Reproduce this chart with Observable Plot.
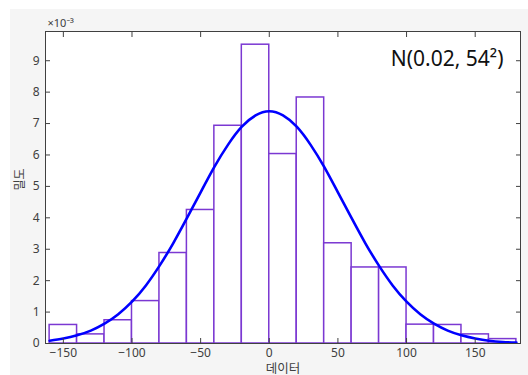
<!DOCTYPE html>
<html>
<head>
<meta charset="utf-8">
<script src="https://cdn.jsdelivr.net/npm/d3@7"></script>
<script src="https://cdn.jsdelivr.net/npm/@observablehq/plot@0.6"></script>
<style>
  html, body { margin: 0; padding: 0; background: #ffffff; }
  #wrap { position: relative; width: 528px; height: 375px; overflow: hidden; }
  #bg { position: absolute; left: 10px; top: 9px; right: 0; bottom: 0; background: #f5f5f5; }
  #chart { position: absolute; left: 0; top: 0; }
  svg { font-family: "Noto Sans", "Noto Sans CJK KR", sans-serif; }
</style>
</head>
<body>
<div id="wrap"><div id="bg"></div><div id="chart"></div></div>
<script>
// Histogram bins (width 20) and densities (×10^-3)
const binStart = [-160, -140, -120, -100, -80, -60, -40, -20, 0, 20, 40, 60, 80, 100, 120, 140, 160];
const binEnd   = [-140, -120, -100, -80, -60, -40, -20, 0, 20, 40, 60, 80, 100, 120, 140, 160, 180];
const density  = [0.59, 0.29, 0.74, 1.35, 2.88, 4.25, 6.93, 9.51, 6.03, 7.83, 3.19, 2.42, 2.42, 0.60, 0.59, 0.29, 0.14];

// Fitted normal curve N(0.02, 54^2) (×10^-3)
const curveX = [-160, -150, -140, -130, -120, -110, -100, -90, -80, -70, -60, -50, -40, -30, -20, -10, 0, 10, 20, 30, 40, 50, 60, 70, 80, 90, 100, 110, 120, 130, 140, 150, 160, 170, 180];
const curveY = [0.09, 0.16, 0.26, 0.41, 0.63, 0.93, 1.33, 1.84, 2.47, 3.19, 3.99, 4.81, 5.62, 6.33, 6.90, 7.26, 7.39, 7.26, 6.90, 6.33, 5.62, 4.81, 3.99, 3.19, 2.47, 1.84, 1.33, 0.93, 0.63, 0.41, 0.26, 0.16, 0.09, 0.05, 0.03];

const xTicks = [-150, -100, -50, 0, 50, 100, 150];
const yTicks = [0, 1, 2, 3, 4, 5, 6, 7, 8, 9];
const xLabel = "데이터";
const yLabel = "밀도";
const expLabel = "×10⁻³";
const fitLabel = "N(0.02, 54²)";

const bins = binStart.map((s, i) => ({x1: s, x2: binEnd[i], y: density[i] / 1000}));
const curve = curveX.map((x, i) => ({x, y: curveY[i] / 1000}));

const axisColor = "#404040";
const barColor = "#7b38d2";

const chart = Plot.plot({
  width: 528,
  height: 375,
  marginLeft: 45,
  marginRight: 8,
  marginTop: 31,
  marginBottom: 32,
  style: {background: "transparent", fontSize: "12px", color: axisColor},
  x: {domain: [-163, 183]},
  y: {domain: [0, 0.00993]},
  marks: [
    Plot.frame({fill: "white", stroke: "none"}),
    Plot.rectY(bins, {x1: "x1", x2: "x2", y1: 0, y2: "y", fill: "white", stroke: barColor, strokeWidth: 1.5}),
    Plot.line(curve, {x: "x", y: "y", stroke: "#0000ff", strokeWidth: 2.6, curve: "natural", clip: true}),
    Plot.frame({stroke: axisColor, strokeWidth: 1}),
    Plot.axisX(xTicks, {anchor: "bottom", tickSize: -5, tickPadding: 10, label: null, fill: axisColor, stroke: axisColor}),
    Plot.axisX(xTicks, {anchor: "top", tickSize: -5, tickFormat: () => "", label: null, stroke: axisColor}),
    Plot.axisY(yTicks.map(d => d / 1000), {anchor: "left", tickSize: -5, tickPadding: 11, tickFormat: d => Math.round(d * 1000), label: null, fill: axisColor, stroke: axisColor}),
    Plot.axisY(yTicks.map(d => d / 1000), {anchor: "right", tickSize: -5, tickFormat: () => "", label: null, stroke: axisColor}),
    Plot.text([expLabel], {frameAnchor: "top-left", dx: 2, dy: -12, fontSize: 11, fill: axisColor, textAnchor: "start"}),
    Plot.text([fitLabel], {frameAnchor: "top-right", dx: -17, dy: 20, fontSize: 21, fill: "#111111", textAnchor: "end"}),
    Plot.text([xLabel], {frameAnchor: "bottom", dy: 29, fontSize: 12.5, fill: axisColor}),
    Plot.text([yLabel], {frameAnchor: "left", dx: -25, dy: 3, rotate: -90, fontSize: 12, fill: axisColor})
  ]
});
document.getElementById("chart").appendChild(chart);
</script>
</body>
</html>
